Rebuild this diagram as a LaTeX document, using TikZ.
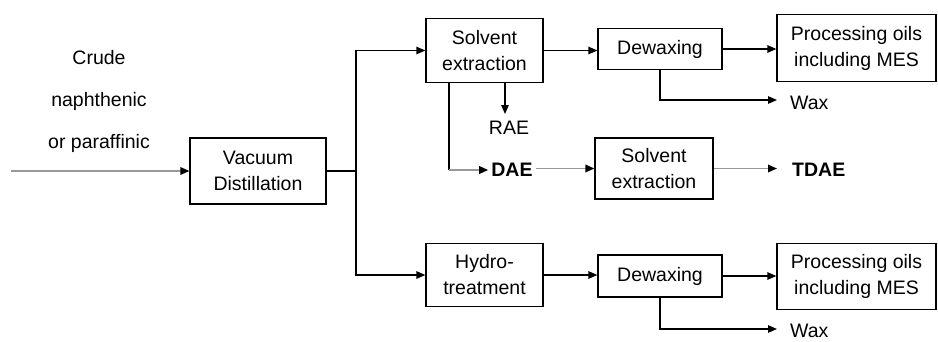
\documentclass[tikz,border=0pt]{standalone}
\usepackage{fontspec}
\setmainfont{Liberation Sans}
\usetikzlibrary{arrows.meta}
\begin{document}
\begin{tikzpicture}[x=1pt,y=-1pt,
  box/.style={draw=black, line width=1.25pt, align=center, inner sep=0pt,
    font=\fontsize{19.5}{26}\selectfont},
  lbl/.style={inner sep=0pt, font=\fontsize{19.5}{26}\selectfont},
  tip/.style={-{Triangle[length=9pt,width=7.5pt,color=black]}},
  arr/.style={tip, draw=black, line width=1.25pt},
  garr/.style={tip, draw=black!40, line width=1.8pt},
  ln/.style={draw=black, line width=1.25pt}]
\useasboundingbox (0,0) rectangle (938,341);
% nodes
\node[lbl, align=center, font=\fontsize{19.5}{42}\selectfont] (crude) at (99,101) {Crude\\naphthenic\\or paraffinic};
\node[box, minimum width=136pt, minimum height=66pt] (VD) at (258,171) {Vacuum\\Distillation};
\node[box, minimum width=117pt, minimum height=64pt] (SE1) at (484.5,50.5) {Solvent\\extraction};
\node[box, minimum width=124pt, minimum height=41pt] (DW1) at (660,49) {Dewaxing};
\node[box, minimum width=159pt, minimum height=67pt] (PO1) at (856.5,48) {Processing oils\\including MES};
\node[lbl] (RAE) at (509,128) {RAE};
\node[lbl, font=\bfseries\fontsize{19.5}{26}\selectfont] (DAE) at (512,170) {DAE};
\node[box, minimum width=118pt, minimum height=61pt] (SE2) at (654,168.5) {Solvent\\extraction};
\node[lbl, font=\bfseries\fontsize{19.5}{26}\selectfont, anchor=west] (TDAE) at (792,170) {TDAE};
\node[lbl, anchor=west] (wax1) at (790,103) {Wax};
\node[box, minimum width=117pt, minimum height=63pt] (HT) at (484.5,275) {Hydro-\\treatment};
\node[box, minimum width=124pt, minimum height=42pt] (DW2) at (660,276) {Dewaxing};
\node[box, minimum width=159pt, minimum height=66pt] (PO2) at (856.5,276.5) {Processing oils\\including MES};
\node[lbl, anchor=west] (wax2) at (790,331) {Wax};
% coordinates
\coordinate (in) at (11,171);
\coordinate (split) at (356,171);
\coordinate (raetip) at (505,114);
\coordinate (daeL) at (449,170);
\coordinate (tdaetip) at (777,170);
\coordinate (wax1tip) at (777,100);
\coordinate (wax2tip) at (777,329);
% connectors
\draw[garr] (in) -- (VD.west);
\draw[ln] (VD.east) -- (split);
\draw[arr] (split) |- (SE1.west);
\draw[arr] (split) |- (HT.west);
\draw[arr] (SE1.east) -- (SE1.east -| DW1.west);
\draw[arr] (DW1.east) -- (DW1.east -| PO1.west);
\draw[arr] (DW1.south) |- (wax1tip);
\draw[arr] (SE1.south -| raetip) -- (raetip);
\draw[ln] (SE1.south -| daeL) -- (daeL);
\draw[garr] (daeL) -- ([xshift=-3pt]DAE.west);
\draw[garr] ([xshift=3pt]DAE.east |- SE2.west) -- (SE2.west);
\draw[garr] (SE2.east) -- (SE2.east -| tdaetip);
\draw[arr] (HT.east) -- (HT.east -| DW2.west);
\draw[arr] (DW2.east) -- (DW2.east -| PO2.west);
\draw[arr] (DW2.south) |- (wax2tip);
\end{tikzpicture}
\end{document}
